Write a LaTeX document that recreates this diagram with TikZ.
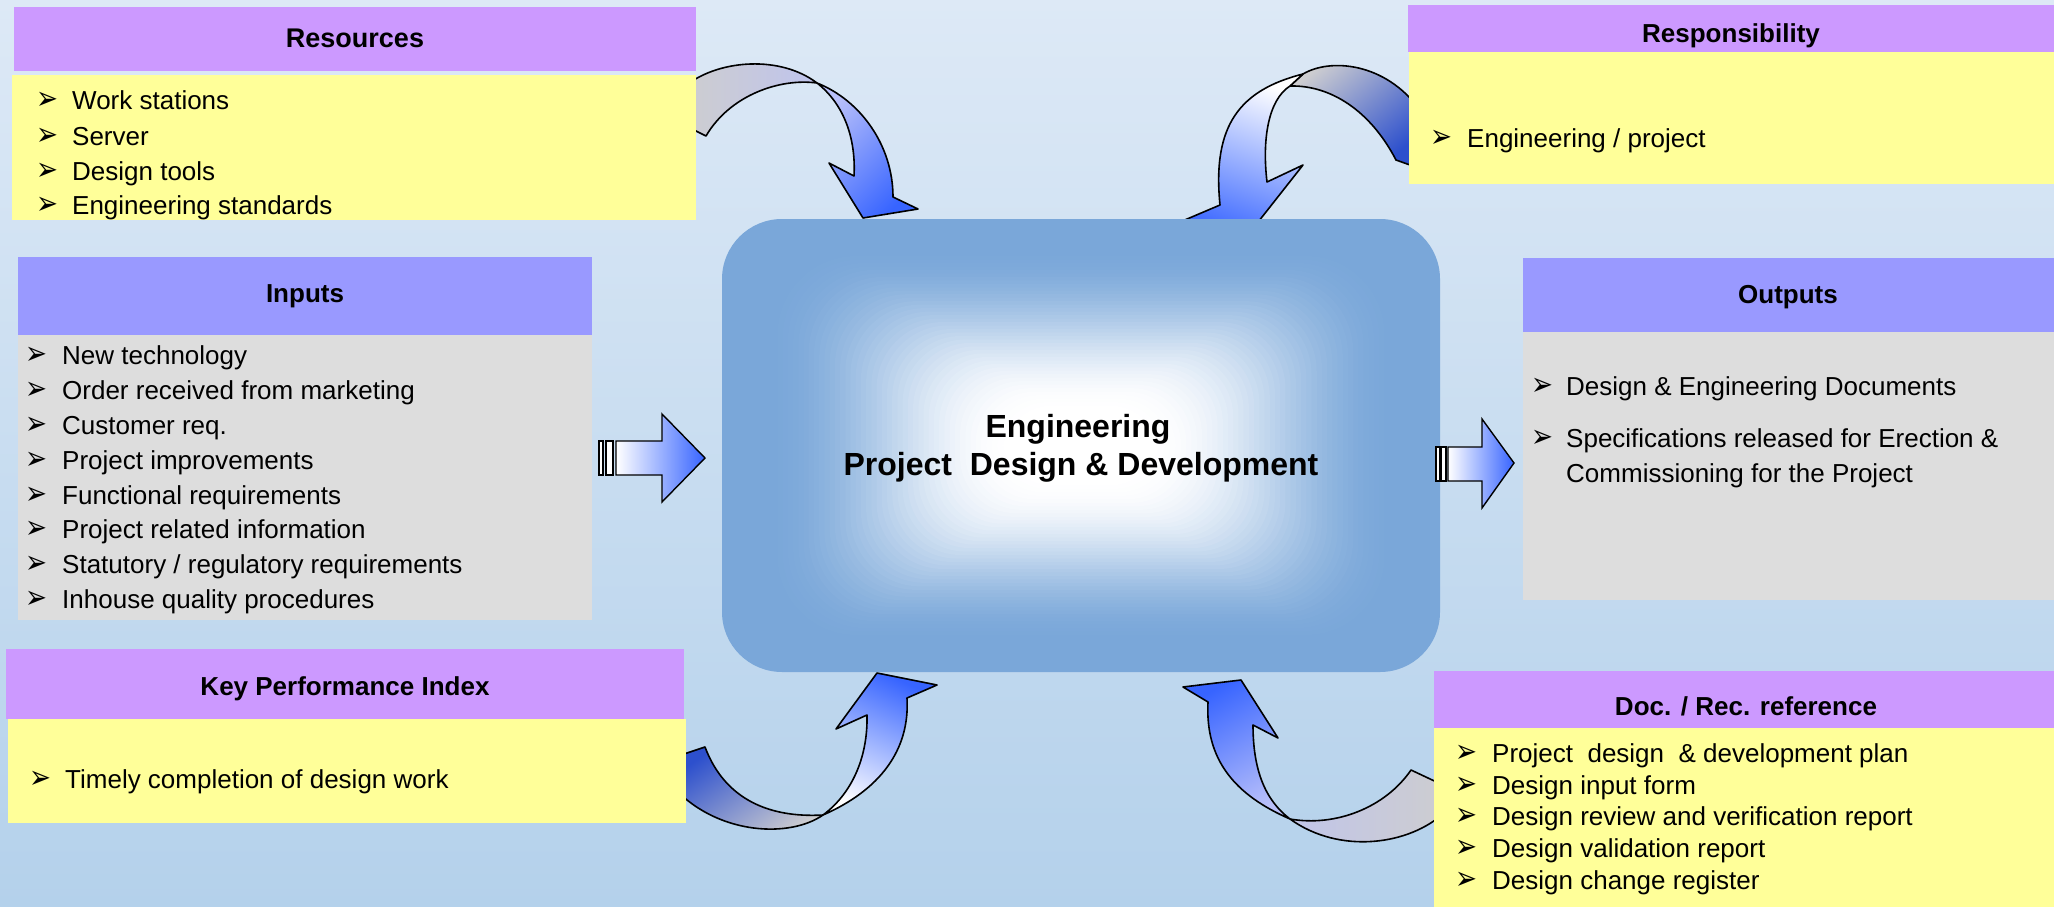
\documentclass[tikz,border=0pt]{standalone}
\usepackage{graphicx}
\usepackage{fontspec}
\setmainfont{Liberation Sans}
\newfontfamily\dv{DejaVu Sans}
\definecolor{bgtop}{RGB}{221,233,246}
\definecolor{bgbot}{RGB}{180,209,235}
\definecolor{purp}{RGB}{204,153,255}
\definecolor{bpurp}{RGB}{153,153,255}
\definecolor{ylw}{RGB}{255,255,153}
\definecolor{gry}{RGB}{221,221,221}
\definecolor{boxblue}{RGB}{122,167,217}
\definecolor{arblue}{RGB}{55,100,255}
\definecolor{ardark}{RGB}{45,80,205}
\definecolor{argray}{RGB}{205,205,208}
\definecolor{arlav}{RGB}{185,192,250}
\newcommand{\bulletmark}{\scalebox{1.25}[1.55]{\dv ➢}}
\newcommand{\itemrow}[5]{\node[bul] (#1b) at (#2,#4) {\bulletmark}; \node[itm] (#1) at (#3,#4) {#5};}
\begin{document}
\begin{tikzpicture}[x=1pt,y=-1pt,
  itm/.style={anchor=base west, inner sep=0pt, font=\fontsize{26}{31}\selectfont},
  bul/.style={anchor=base west, inner sep=0pt, font=\fontsize{21}{26}\selectfont},
  hdr/.style={anchor=base, inner sep=0pt, font=\bfseries\fontsize{26}{31}\selectfont},
  core/.style={anchor=base, inner sep=0pt, font=\bfseries\fontsize{32}{38}\selectfont},
  arrowline/.style={draw=black, line width=1.6pt, line join=round},
  blockline/.style={draw=black, line width=1.4pt, line join=miter}]
\useasboundingbox (0,0) rectangle (2054,907);
% background
\shade[top color=bgtop, bottom color=bgbot] (0,0) rectangle (2054,907);

% curved arrows (drawn behind the boxes)
% top left
\shadedraw[arrowline, left color=argray, right color=arlav!70!argray]
  (688,84) .. controls (720,60) and (780,55) .. (817,83)
  .. controls (780,78) and (730,95) .. (706,136) -- (690,128) -- cycle;
\shadedraw[arrowline, top color=arlav, bottom color=arblue, shading angle=45]
  (817,83) .. controls (860,100) and (893,145) .. (893,197) -- (918,209) -- (863,218)
  -- (829,163) -- (854,176) .. controls (856,140) and (845,105) .. (817,83) -- cycle;
% top right
\shadedraw[arrowline, top color=argray, bottom color=ardark, shading angle=40]
  (1303,74) .. controls (1330,58) and (1385,62) .. (1420,110) -- (1410,165) -- (1396,160)
  .. controls (1370,110) and (1330,85) .. (1290,86) -- cycle;
\shadedraw[arrowline, top color=white, bottom color=arblue, shading angle=-20]
  (1303,74) .. controls (1240,90) and (1212,125) .. (1220,205) -- (1180,222) -- (1240,245)
  -- (1303,165) -- (1267,182) .. controls (1262,140) and (1268,100) .. (1290,86) -- cycle;
% bottom left
\shadedraw[arrowline, top color=ardark, bottom color=argray, shading angle=35]
  (675,757) -- (705,747) .. controls (725,800) and (770,818) .. (823,815)
  .. controls (790,838) and (720,835) .. (676,790) -- cycle;
\shadedraw[arrowline, top color=arblue, bottom color=white, shading angle=-25]
  (823,815) .. controls (880,790) and (910,750) .. (907,698) -- (937,685) -- (877,673)
  -- (836,729) -- (867,715) .. controls (868,760) and (850,795) .. (823,815) -- cycle;
% bottom right
\shadedraw[arrowline, left color=arlav!60!argray, right color=argray]
  (1290,819) .. controls (1335,827) and (1385,808) .. (1411,770) -- (1445,786) -- (1445,812)
  .. controls (1410,845) and (1340,855) .. (1290,819) -- cycle;
\shadedraw[arrowline, top color=arblue, bottom color=arlav, shading angle=30]
  (1290,819) .. controls (1235,795) and (1205,760) .. (1208,702) -- (1183,687) -- (1241,680)
  -- (1278,738) -- (1253,725) .. controls (1253,770) and (1265,800) .. (1290,819) -- cycle;

% boxes
\fill[purp] (14,7) rectangle (696,71);
\fill[ylw] (12,75) rectangle (696,220);
\fill[bpurp] (18,257) rectangle (592,335);
\fill[gry] (18,335) rectangle (592,620);
\fill[purp] (6,649) rectangle (684,719);
\fill[ylw] (8,719) rectangle (686,823);
\fill[purp] (1408,5) rectangle (2054,52);
\fill[ylw] (1409,52) rectangle (2054,184);
\fill[bpurp] (1523,258) rectangle (2054,332);
\fill[gry] (1523,332) rectangle (2054,600);
\fill[purp] (1434,671) rectangle (2054,728);
\fill[ylw] (1434,728) rectangle (2054,907);

% central box with a rectangular glow
\fill[boxblue, rounded corners=60pt] (722,219) rectangle (1440,672);
\foreach \k in {0,...,46} {
  \pgfmathsetmacro\t{\k/46}
  \pgfmathsetmacro\pc{100*(3*\t*\t-2*\t*\t*\t)}
  \pgfmathsetmacro\ix{45+240*\t}
  \pgfmathsetmacro\iy{30+160*\t}
  \pgfmathsetmacro\rr{80-30*\t}
  \fill[white!\pc!boxblue, rounded corners=\rr pt] ({722+\ix},{219+\iy}) rectangle ({1440-\ix},{672-\iy});
}
\node[core] (core1) at (1078,437) {Engineering};
\node[core] (core2) at (1081,475) {Project\ \ Design \& Development};

% headers
\node[hdr, font=\bfseries\fontsize{27}{31}\selectfont] (hres) at (355,48) {Resources};
\node[hdr] (hin) at (305,302) {Inputs};
\node[hdr] (hkpi) at (345,695) {Key Performance Index};
\node[hdr] (hresp) at (1731,43) {Responsibility};
\node[hdr] (hout) at (1788,303) {Outputs};
\node[hdr] (hdoc) at (1746,715) {Doc. / Rec. reference};

% items
\itemrow{res1}{36}{72}{110}{Work stations}
\itemrow{res2}{36}{72}{145}{Server}
\itemrow{res3}{36}{72}{180}{Design tools}
\itemrow{res4}{36}{72}{214}{Engineering standards}

\itemrow{in1}{25}{62}{364}{New technology}
\itemrow{in2}{25}{62}{399}{Order received from marketing}
\itemrow{in3}{25}{62}{434}{Customer req.}
\itemrow{in4}{25}{62}{469}{Project improvements}
\itemrow{in5}{25}{62}{504}{Functional requirements}
\itemrow{in6}{25}{62}{538}{Project related information}
\itemrow{in7}{25}{62}{573}{Statutory / regulatory requirements}
\itemrow{in8}{25}{62}{608}{Inhouse quality procedures}

\itemrow{kpi1}{29}{65}{788}{Timely completion of design work}

\itemrow{resp1}{1430}{1467}{147}{Engineering / project}

\itemrow{out1}{1531}{1566}{395}{Design \& Engineering Documents}
\itemrow{out2}{1531}{1566}{447}{Specifications released for Erection \&}
\node[itm] (out2c) at (1566,482) {Commissioning for the Project};

\itemrow{doc1}{1455}{1492}{762}{Project\ \ design\ \ \& development plan}
\itemrow{doc2}{1455}{1492}{794}{Design input form}
\itemrow{doc3}{1455}{1492}{825}{Design review and verification report}
\itemrow{doc4}{1455}{1492}{857}{Design validation report}
\itemrow{doc5}{1455}{1492}{889}{Design change register}

% block arrows
\draw[blockline, fill=white] (599,441) rectangle (603,475);
\draw[blockline, fill=white] (606,441) rectangle (613,475);
\shadedraw[blockline, left color=white, right color=arblue]
  (616,441) -- (662,441) -- (662,414) -- (705,458) -- (662,502) -- (662,475) -- (616,475) -- cycle;
\draw[blockline, fill=white] (1436,447) rectangle (1440,481);
\draw[blockline, fill=white] (1441,447) rectangle (1446,481);
\shadedraw[blockline, left color=white, right color=arblue]
  (1448,447) -- (1482,447) -- (1482,419) -- (1514,463) -- (1482,508) -- (1482,481) -- (1448,481) -- cycle;
\end{tikzpicture}
\end{document}
